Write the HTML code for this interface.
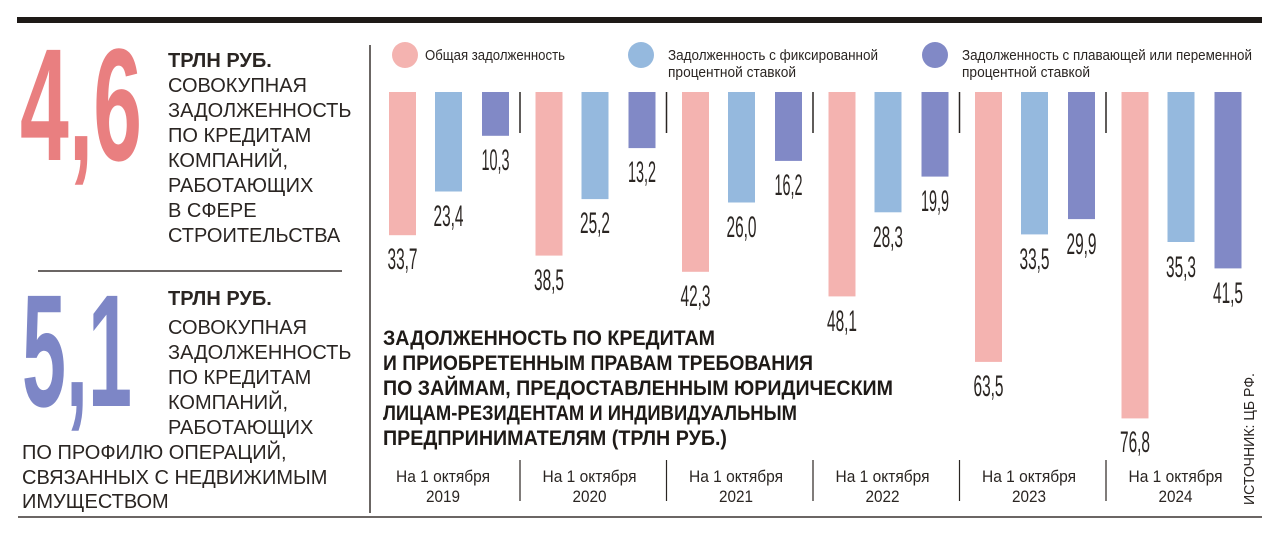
<!DOCTYPE html>
<html><head><meta charset="utf-8"><style>
html,body{margin:0;padding:0;background:#fff;}
svg{display:block;}
.n{font-family:"Liberation Sans","DejaVu Sans",sans-serif;font-size:30px;fill:#2a2522;}
.t{font-family:"Liberation Sans","DejaVu Sans",sans-serif;font-size:20px;fill:#2a2522;}
.h{font-family:"Liberation Sans","DejaVu Sans",sans-serif;font-size:21px;font-weight:bold;fill:#1e1a17;}
.l{font-family:"Liberation Sans","DejaVu Sans",sans-serif;font-size:15px;fill:#2a2522;}
.x{font-family:"Liberation Sans","DejaVu Sans",sans-serif;font-size:17px;fill:#2a2522;}
</style></head><body>
<svg width="1280" height="535" viewBox="0 0 1280 535" xmlns="http://www.w3.org/2000/svg">
<rect x="17" y="17" width="1245" height="6" fill="#1e1a17"/>
<line x1="370" y1="45" x2="370" y2="513" stroke="#3a3430" stroke-width="1.5"/>
<line x1="18" y1="517" x2="1262" y2="517" stroke="#3a3430" stroke-width="1.5"/>
<line x1="38" y1="271" x2="342" y2="271" stroke="#3a3430" stroke-width="1.5"/>

<!-- big numbers -->
<text x="20" y="160" font-family="Liberation Sans, sans-serif" font-weight="bold" font-size="160" fill="#e97f80" textLength="122" lengthAdjust="spacingAndGlyphs">4,6</text>
<text x="22" y="406" font-family="Liberation Sans, sans-serif" font-weight="bold" font-size="160" fill="#7d86c6" textLength="110" lengthAdjust="spacingAndGlyphs">5,1</text>

<text x="168" y="67" class="t" font-weight="bold" font-size="19">ТРЛН РУБ.</text>
<text class="t"><tspan x="168" y="92">СОВОКУПНАЯ</tspan><tspan x="168" y="117">ЗАДОЛЖЕННОСТЬ</tspan><tspan x="168" y="142">ПО КРЕДИТАМ</tspan><tspan x="168" y="167">КОМПАНИЙ,</tspan><tspan x="168" y="192">РАБОТАЮЩИХ</tspan><tspan x="168" y="217">В СФЕРЕ</tspan><tspan x="168" y="242">СТРОИТЕЛЬСТВА</tspan></text>
<text x="168" y="305" class="t" font-weight="bold" font-size="19">ТРЛН РУБ.</text>
<text class="t"><tspan x="168" y="334">СОВОКУПНАЯ</tspan><tspan x="168" y="359">ЗАДОЛЖЕННОСТЬ</tspan><tspan x="168" y="384">ПО КРЕДИТАМ</tspan><tspan x="168" y="409">КОМПАНИЙ,</tspan><tspan x="168" y="434">РАБОТАЮЩИХ</tspan><tspan x="22" y="459">ПО ПРОФИЛЮ ОПЕРАЦИЙ,</tspan><tspan x="22" y="484">СВЯЗАННЫХ С НЕДВИЖИМЫМ</tspan><tspan x="22" y="508">ИМУЩЕСТВОМ</tspan></text>

<!-- legend -->
<circle cx="405" cy="55" r="13" fill="#f4b3b0"/>
<text x="425" y="60" class="l" textLength="140" lengthAdjust="spacingAndGlyphs">Общая задолженность</text>
<circle cx="641" cy="55" r="13" fill="#95b9de"/>
<text x="668" y="60" class="l" textLength="210" lengthAdjust="spacingAndGlyphs">Задолженность с фиксированной</text>
<text x="668" y="77" class="l" textLength="128" lengthAdjust="spacingAndGlyphs">процентной ставкой</text>
<circle cx="935" cy="55" r="13" fill="#8189c6"/>
<text x="962" y="60" class="l" textLength="290" lengthAdjust="spacingAndGlyphs">Задолженность с плавающей или переменной</text>
<text x="962" y="77" class="l" textLength="128" lengthAdjust="spacingAndGlyphs">процентной ставкой</text>

<!-- bars -->
<g fill="#f4b3b0">
<rect x="389" y="92" width="27" height="143.2"/>
<rect x="535.5" y="92" width="27" height="163.6"/>
<rect x="682" y="92" width="27" height="179.8"/>
<rect x="828.5" y="92" width="27" height="204.4"/>
<rect x="975" y="92" width="27" height="269.9"/>
<rect x="1121.5" y="92" width="27" height="326.4"/>
</g>
<g fill="#95b9de">
<rect x="435" y="92" width="27" height="99.5"/>
<rect x="581.5" y="92" width="27" height="107.1"/>
<rect x="728" y="92" width="27" height="110.5"/>
<rect x="874.5" y="92" width="27" height="120.3"/>
<rect x="1021" y="92" width="27" height="142.4"/>
<rect x="1167.5" y="92" width="27" height="150"/>
</g>
<g fill="#8189c6">
<rect x="482" y="92" width="27" height="43.8"/>
<rect x="628.5" y="92" width="27" height="56.1"/>
<rect x="775" y="92" width="27" height="68.9"/>
<rect x="921.5" y="92" width="27" height="84.6"/>
<rect x="1068" y="92" width="27" height="127.1"/>
<rect x="1214.5" y="92" width="27" height="176.4"/>
</g>
<g stroke="#2a2522" stroke-width="1.5">
<line x1="520" y1="92" x2="520" y2="133"/>
<line x1="666.5" y1="92" x2="666.5" y2="133"/>
<line x1="813" y1="92" x2="813" y2="133"/>
<line x1="959.5" y1="92" x2="959.5" y2="133"/>
<line x1="1106" y1="92" x2="1106" y2="133"/>
</g>

<!-- value labels -->
<g class="n" text-anchor="middle">
<text x="402.5" y="269" textLength="30" lengthAdjust="spacingAndGlyphs">33,7</text>
<text x="448.5" y="226" textLength="30" lengthAdjust="spacingAndGlyphs">23,4</text>
<text x="495.5" y="170" textLength="28" lengthAdjust="spacingAndGlyphs">10,3</text>
<text x="549" y="290" textLength="30" lengthAdjust="spacingAndGlyphs">38,5</text>
<text x="595" y="233" textLength="30" lengthAdjust="spacingAndGlyphs">25,2</text>
<text x="642" y="182" textLength="28" lengthAdjust="spacingAndGlyphs">13,2</text>
<text x="695.5" y="306" textLength="30" lengthAdjust="spacingAndGlyphs">42,3</text>
<text x="741.5" y="237" textLength="30" lengthAdjust="spacingAndGlyphs">26,0</text>
<text x="788.5" y="195" textLength="28" lengthAdjust="spacingAndGlyphs">16,2</text>
<text x="842" y="331" textLength="30" lengthAdjust="spacingAndGlyphs">48,1</text>
<text x="888" y="247" textLength="30" lengthAdjust="spacingAndGlyphs">28,3</text>
<text x="935" y="211" textLength="28" lengthAdjust="spacingAndGlyphs">19,9</text>
<text x="988.5" y="396" textLength="30" lengthAdjust="spacingAndGlyphs">63,5</text>
<text x="1034.5" y="269" textLength="30" lengthAdjust="spacingAndGlyphs">33,5</text>
<text x="1081.5" y="254" textLength="30" lengthAdjust="spacingAndGlyphs">29,9</text>
<text x="1135" y="452" textLength="30" lengthAdjust="spacingAndGlyphs">76,8</text>
<text x="1181" y="277" textLength="30" lengthAdjust="spacingAndGlyphs">35,3</text>
<text x="1228" y="303" textLength="30" lengthAdjust="spacingAndGlyphs">41,5</text>
</g>

<!-- title -->
<g class="h">
<text x="383" y="345" textLength="332" lengthAdjust="spacingAndGlyphs">ЗАДОЛЖЕННОСТЬ ПО КРЕДИТАМ</text>
<text x="383" y="370" textLength="430" lengthAdjust="spacingAndGlyphs">И ПРИОБРЕТЕННЫМ ПРАВАМ ТРЕБОВАНИЯ</text>
<text x="383" y="395" textLength="510" lengthAdjust="spacingAndGlyphs">ПО ЗАЙМАМ, ПРЕДОСТАВЛЕННЫМ ЮРИДИЧЕСКИМ</text>
<text x="383" y="420" textLength="414" lengthAdjust="spacingAndGlyphs">ЛИЦАМ-РЕЗИДЕНТАМ И ИНДИВИДУАЛЬНЫМ</text>
<text x="383" y="445" textLength="344" lengthAdjust="spacingAndGlyphs">ПРЕДПРИНИМАТЕЛЯМ (ТРЛН РУБ.)</text>
</g>

<!-- x labels -->
<g class="x" text-anchor="middle">
<text x="443" y="482" textLength="94" lengthAdjust="spacingAndGlyphs">На 1 октября</text><text x="443" y="502" textLength="34" lengthAdjust="spacingAndGlyphs">2019</text>
<text x="589.5" y="482" textLength="94" lengthAdjust="spacingAndGlyphs">На 1 октября</text><text x="589.5" y="502" textLength="34" lengthAdjust="spacingAndGlyphs">2020</text>
<text x="736" y="482" textLength="94" lengthAdjust="spacingAndGlyphs">На 1 октября</text><text x="736" y="502" textLength="34" lengthAdjust="spacingAndGlyphs">2021</text>
<text x="882.5" y="482" textLength="94" lengthAdjust="spacingAndGlyphs">На 1 октября</text><text x="882.5" y="502" textLength="34" lengthAdjust="spacingAndGlyphs">2022</text>
<text x="1029" y="482" textLength="94" lengthAdjust="spacingAndGlyphs">На 1 октября</text><text x="1029" y="502" textLength="34" lengthAdjust="spacingAndGlyphs">2023</text>
<text x="1175.5" y="482" textLength="94" lengthAdjust="spacingAndGlyphs">На 1 октября</text><text x="1175.5" y="502" textLength="34" lengthAdjust="spacingAndGlyphs">2024</text>
</g>
<g stroke="#2a2522" stroke-width="1.2">
<line x1="520" y1="460" x2="520" y2="501"/>
<line x1="666.5" y1="460" x2="666.5" y2="501"/>
<line x1="813" y1="460" x2="813" y2="501"/>
<line x1="959.5" y1="460" x2="959.5" y2="501"/>
<line x1="1106" y1="460" x2="1106" y2="501"/>
</g>
<text transform="translate(1254,505) rotate(-90)" x="0" y="0" font-family="Liberation Sans, sans-serif" font-size="15" fill="#2a2522" textLength="132" lengthAdjust="spacingAndGlyphs">ИСТОЧНИК: ЦБ РФ.</text>
</svg>
</body></html>
